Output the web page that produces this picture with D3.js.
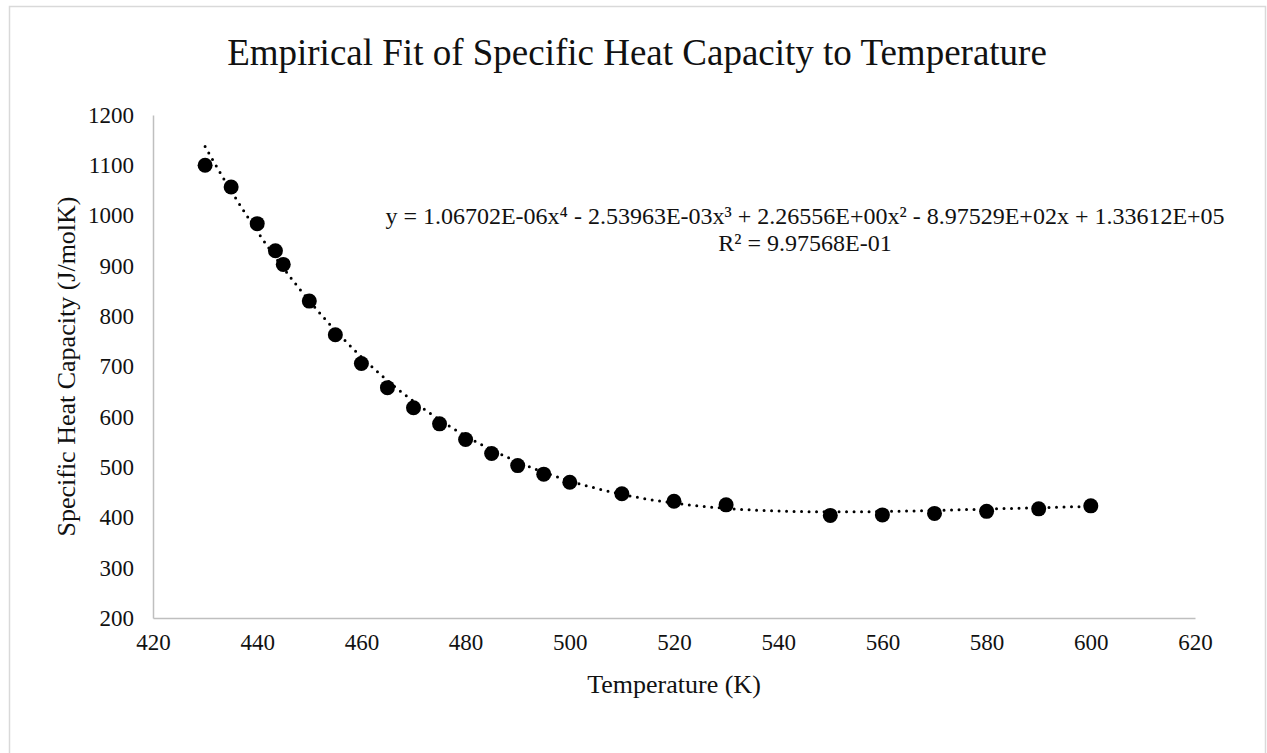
<!DOCTYPE html>
<html>
<head>
<meta charset="utf-8">
<script src="https://cdn.jsdelivr.net/npm/d3@7"></script>
<style>
  body { margin: 0; background: #fff; }
  text { font-family: "Liberation Serif", "Times New Roman", serif; fill: #111; }
</style>
</head>
<body>
<svg id="chart" width="1267" height="753"></svg>
<script>
// data
const temps = [430, 435, 440, 443.5, 445, 450, 455, 460, 465, 470, 475, 480, 485, 490, 495, 500, 510, 520, 530, 550, 560, 570, 580, 590, 600];
const heatCap = [1100, 1057, 984, 930, 903, 830, 763, 706, 658, 618, 586, 555, 527, 503, 486, 470, 447, 432, 425, 404, 405, 408, 412, 417, 423];
const xTicks = [420, 440, 460, 480, 500, 520, 540, 560, 580, 600, 620];
const yTicks = [200, 300, 400, 500, 600, 700, 800, 900, 1000, 1100, 1200];
// trendline coefficients as printed on the chart (x^4 .. x^0)
const coeffs = [1.06702e-6, -2.53963e-3, 2.26556, -8.97529e2, 1.33612e5];
const eqText = "y = 1.06702E-06x\u2074 - 2.53963E-03x\u00b3 + 2.26556E+00x\u00b2 - 8.97529E+02x + 1.33612E+05";
const r2Text = "R\u00b2 = 9.97568E-01";

const svg = d3.select("#chart");

const x = d3.scaleLinear().domain([420, 620]).range([153, 1195]);
const y = d3.scaleLinear().domain([200, 1200]).range([618, 115]);

// outer chart border
svg.append("rect")
    .attr("x", 9.5).attr("y", 6.5)
    .attr("width", 1256).attr("height", 760)
    .style("fill", "none")
    .style("stroke", "#d9d9d9")
    .style("stroke-width", 1.5);

svg.append("text")
    .attr("x", 637).attr("y", 52)
    .attr("text-anchor", "middle")
    .attr("dominant-baseline", "central")
    .style("font-size", "37px")
    .text("Empirical Fit of Specific Heat Capacity to Temperature");

// axes
const xAxis = svg.append("g")
    .attr("transform", `translate(0,${y(200)})`)
    .call(d3.axisBottom(x).tickValues(xTicks).tickFormat(d3.format("d")).tickSize(0).tickPadding(16));
const yAxis = svg.append("g")
    .attr("transform", `translate(${x(420)},0)`)
    .call(d3.axisLeft(y).tickValues(yTicks).tickFormat(d3.format("d")).tickSize(0).tickPadding(19));

[xAxis, yAxis].forEach(g => {
    g.select(".domain").style("stroke", "#bfbfbf").style("stroke-width", 1.5);
    g.selectAll("text")
        .style("font-size", "23px")
        .style("font-family", "'Liberation Serif', serif")
        .style("fill", "#111");
});

svg.append("text")
    .attr("x", 674).attr("y", 684)
    .attr("text-anchor", "middle")
    .attr("dominant-baseline", "central")
    .style("font-size", "26px")
    .text("Temperature (K)");

svg.append("text")
    .attr("transform", `translate(66,${(y(200) + y(1200)) / 2}) rotate(-90)`)
    .attr("text-anchor", "middle")
    .attr("dominant-baseline", "central")
    .style("font-size", "26px")
    .text("Specific Heat Capacity (J/molK)");

// polynomial trendline, dotted
const poly = t => coeffs.reduce((acc, c) => acc * t + c, 0);
const trend = d3.range(430, 600.5, 1).map(t => [t, poly(t)]);

svg.append("path")
    .datum(trend)
    .attr("d", d3.line().x(d => x(d[0])).y(d => y(d[1])))
    .style("fill", "none")
    .style("stroke", "#000")
    .style("stroke-width", 3)
    .style("stroke-linecap", "round")
    .style("stroke-dasharray", "0,7.5");

// markers
svg.append("g")
    .selectAll("circle")
    .data(temps.map((t, i) => [t, heatCap[i]]))
    .enter().append("circle")
    .attr("cx", d => x(d[0]))
    .attr("cy", d => y(d[1]))
    .attr("r", 7.5)
    .style("fill", "#000");

// equation label
svg.append("text")
    .attr("x", 805).attr("y", 216)
    .attr("text-anchor", "middle")
    .attr("dominant-baseline", "central")
    .style("font-size", "24px")
    .text(eqText);
svg.append("text")
    .attr("x", 805).attr("y", 243)
    .attr("text-anchor", "middle")
    .attr("dominant-baseline", "central")
    .style("font-size", "24px")
    .text(r2Text);
</script>
</body>
</html>
